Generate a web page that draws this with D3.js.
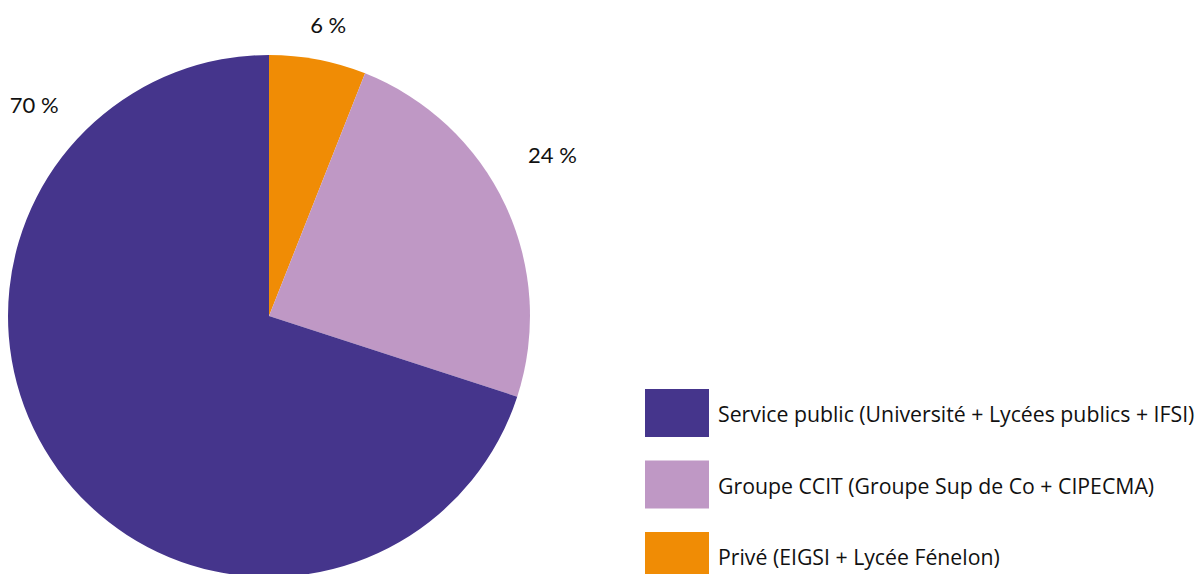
<!DOCTYPE html>
<html>
<head>
<meta charset="utf-8">
<script src="https://cdn.jsdelivr.net/npm/d3@7"></script>
<style>
  html, body { margin: 0; padding: 0; background: #fff; }
  svg { display: block; font-family: Lato, "Open Sans", sans-serif; }
</style>
</head>
<body>
<svg id="chart" width="1202" height="574"></svg>
<script>
// data
const categories = [
  "Privé (EIGSI + Lycée Fénelon)",
  "Groupe CCIT (Groupe Sup de Co + CIPECMA)",
  "Service public (Université + Lycées publics + IFSI)"
];
const shares = [6, 24, 70];
const colors = ["#f08c05", "#bf98c5", "#45358c"];
const legendOrder = [2, 1, 0];

const svg = d3.select("#chart");
const cx = 269, cy = 316, r = 261;

const pie = d3.pie().sort(null).value(d => d)(shares);
const arc = d3.arc().innerRadius(0).outerRadius(r);

const g = svg.append("g").attr("transform", `translate(${cx},${cy})`);
g.selectAll("path").data(pie).enter()
  .append("path")
  .attr("d", arc)
  .attr("fill", (d, i) => colors[i]);

// percent labels outside the pie (hand placed around the rim)
const labelPos = [
  { angle: 11.5, rad: 297 },
  { angle: 60.4, rad: 326 },
  { angle: 312, rad: 316 }
];
g.selectAll("text.pct").data(pie).enter()
  .append("text")
  .attr("class", "pct")
  .attr("x", (d, i) => labelPos[i].rad * Math.sin(labelPos[i].angle * Math.PI / 180))
  .attr("y", (d, i) => -labelPos[i].rad * Math.cos(labelPos[i].angle * Math.PI / 180))
  .attr("text-anchor", "middle")
  .attr("dominant-baseline", "central")
  .style("font-size", "22px")
  .style("fill", "#111")
  .text(d => d.value + " %");

// legend
const legend = svg.append("g").attr("transform", "translate(645,389)");
const item = legend.selectAll("g").data(legendOrder).enter()
  .append("g")
  .attr("transform", (d, i) => `translate(0,${i * 71.5})`);
item.append("rect")
  .attr("width", 64).attr("height", 48)
  .attr("fill", d => colors[d]);
item.append("text")
  .attr("x", 73).attr("y", 33)
  .style("font-family", "'Open Sans', sans-serif")
  .style("font-size", "21.25px")
  .style("fill", "#111")
  .text(d => categories[d]);
</script>
</body>
</html>
